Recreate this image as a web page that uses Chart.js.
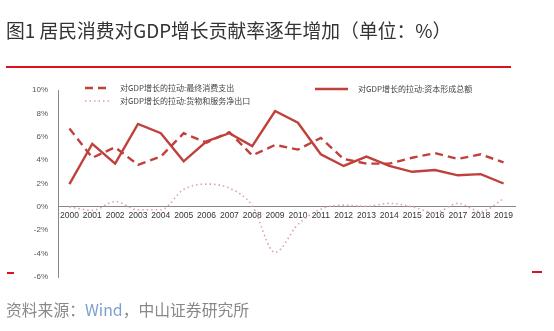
<!DOCTYPE html>
<html>
<head>
<meta charset="utf-8">
<script src="https://cdn.jsdelivr.net/npm/chart.js@4/dist/chart.umd.min.js"></script>
<style>
  html, body { margin: 0; padding: 0; background: #fff; }
  #wrap { position: relative; width: 554px; height: 331px; overflow: hidden; }
  #title { position: absolute; left: 6px; top: 16px; font: 18.8px "Noto Sans CJK SC", sans-serif; color: #333; white-space: nowrap; }
  #rule { position: absolute; left: 6px; top: 66px; width: 505px; height: 2px; background: #d7141e; }
  .mark { position: absolute; height: 2px; background: #d7141e; }
  #src { position: absolute; left: 6px; top: 298px; font: 15.8px "Noto Sans CJK SC", sans-serif; color: #888; white-space: nowrap; }
  #src span { color: #7b9fd0; }
  canvas { position: absolute; left: 0; top: 0; }
</style>
</head>
<body>
<div id="wrap">
  <canvas id="c" width="554" height="331"></canvas>
  <div id="title">图1 居民消费对GDP增长贡献率逐年增加（单位：%）</div>
  <div id="rule"></div>
  <div class="mark" style="left:7px; top:272px; width:7px;"></div>
  <div class="mark" style="left:532px; top:271px; width:10px;"></div>
  <div id="src">资料来源：<span>Wind</span>，中山证券研究所</div>
</div>
<script>
const years = ["2000","2001","2002","2003","2004","2005","2006","2007","2008","2009",
               "2010","2011","2012","2013","2014","2015","2016","2017","2018","2019"];

// 对GDP增长的拉动：最终消费支出
const consumption = [6.7, 4.2, 5.1, 3.6, 4.3, 6.3, 5.5, 6.4, 4.4, 5.3,
                     4.9, 5.9, 4.1, 3.7, 3.7, 4.2, 4.6, 4.1, 4.5, 3.8];
// 对GDP增长的拉动：资本形成总额
const capital = [1.95, 5.4, 3.7, 7.1, 6.3, 3.9, 5.6, 6.3, 5.2, 8.2,
                 7.2, 4.5, 3.5, 4.3, 3.5, 3.0, 3.15, 2.7, 2.8, 2.0];
// 对GDP增长的拉动：货物和服务净出口
const netExports = [0.0, -0.3, 0.45, -0.25, -0.25, 1.5, 1.95, 1.6, 0.1, -3.9,
                    -1.5, -0.2, 0.15, 0.05, 0.3, 0.0, -0.5, 0.3, -0.4, 0.7];

const legendItems = [
  { label: "对GDP增长的拉动:最终消费支出", x: 85, y: 88, ds: 0 },
  { label: "对GDP增长的拉动:货物和服务净出口", x: 85, y: 101, ds: 2 },
  { label: "对GDP增长的拉动:资本形成总额", x: 315, y: 89, ds: 1 }
];

// draws the legend where the original has it, inside the plot
const legendPlugin = {
  id: "fixedLegend",
  afterDraw(chart) {
    const ctx = chart.ctx;
    ctx.save();
    legendItems.forEach(it => {
      const ds = chart.data.datasets[it.ds];
      ctx.strokeStyle = ds.borderColor;
      ctx.lineWidth = ds.borderWidth;
      ctx.setLineDash(ds.borderDash || []);
      const len = it.ds === 1 ? 33 : 25;
      ctx.beginPath();
      ctx.moveTo(it.x, it.y);
      ctx.lineTo(it.x + len, it.y);
      ctx.stroke();
      ctx.setLineDash([]);
      ctx.fillStyle = "#444";
      ctx.font = '8px "Noto Sans CJK SC", sans-serif';
      ctx.textBaseline = "middle";
      ctx.fillText(it.label, it.x + len + 10, it.y);
    });
    ctx.restore();
  }
};

new Chart(document.getElementById("c").getContext("2d"), {
  type: "line",
  data: {
    labels: years,
    datasets: [
      {
        label: "对GDP增长的拉动:最终消费支出",
        data: consumption,
        borderColor: "#c0403c",
        borderWidth: 2.4,
        borderDash: [8, 5],
        pointRadius: 0,
        tension: 0,
        fill: false
      },
      {
        label: "对GDP增长的拉动:资本形成总额",
        data: capital,
        borderColor: "#c0403c",
        borderWidth: 2.4,
        pointRadius: 0,
        tension: 0,
        fill: false
      },
      {
        label: "对GDP增长的拉动:货物和服务净出口",
        data: netExports,
        borderColor: "#e0a0a0",
        borderWidth: 1.6,
        borderDash: [1.5, 3],
        pointRadius: 0,
        tension: 0.4,
        cubicInterpolationMode: "monotone",
        fill: false
      }
    ]
  },
  options: {
    responsive: false,
    animation: false,
    layout: { padding: { top: 90, bottom: 54, left: 0, right: 39 } },
    plugins: {
      legend: { display: false },
      tooltip: { enabled: false }
    },
    scales: {
      x: {
        position: { y: 0 },
        offset: true,
        grid: { display: false, drawTicks: false },
        border: { display: true, color: "#888", width: 1 },
        ticks: {
          color: "#333",
          font: { family: "Arial, 'Liberation Sans', sans-serif", size: 8.5 },
          padding: 4,
          maxRotation: 0,
          autoSkip: false
        }
      },
      y: {
        min: -6,
        max: 10,
        afterFit: s => { s.width = 58; },
        grid: { display: false, drawTicks: false },
        border: { display: true, color: "#888", width: 1 },
        ticks: {
          stepSize: 2,
          color: "#555",
          padding: 10,
          font: { family: "Arial, 'Liberation Sans', sans-serif", size: 8 },
          callback: v => v + "%"
        }
      }
    }
  },
  plugins: [legendPlugin]
});
</script>
</body>
</html>
